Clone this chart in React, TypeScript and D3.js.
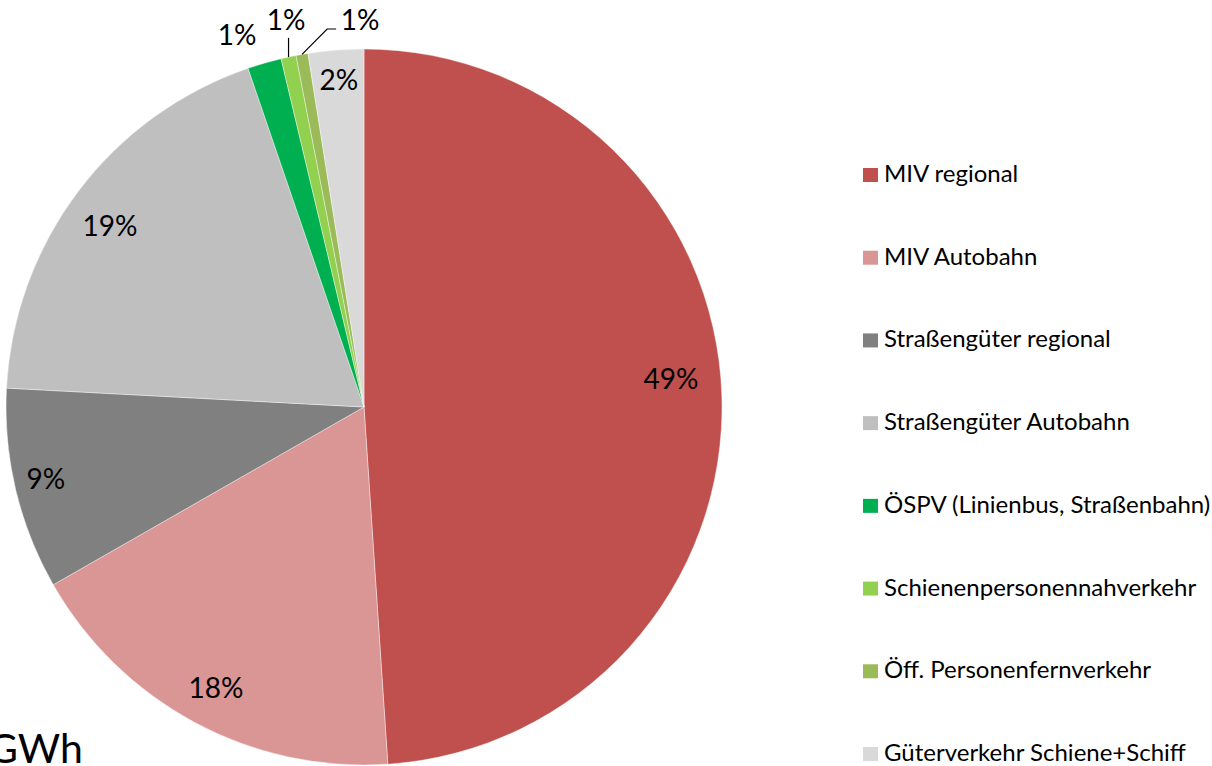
import React from "react";
import * as d3 from "d3";

const categories = [
  "MIV regional",
  "MIV Autobahn",
  "Straßengüter regional",
  "Straßengüter Autobahn",
  "ÖSPV (Linienbus, Straßenbahn)",
  "Schienenpersonennahverkehr",
  "Öff. Personenfernverkehr",
  "Güterverkehr Schiene+Schiff",
];
const shares = [48.94, 17.79, 9.11, 18.91, 1.53, 0.68, 0.54, 2.5];
const labels = ["49%", "18%", "9%", "19%", "1%", "1%", "1%", "2%"];
const colors = ["#C0504D", "#DA9694", "#808080", "#BFBFBF", "#00B050", "#92D050", "#9BBB59", "#D9D9D9"];
// label placement: [radius factor, angle shift in degrees from slice mid]
const labelPolar: [number, number][] = [
  [0.861, -3.3],
  [0.887, -0.4],
  [0.911, 0.6],
  [0.871, -1.6],
  [1.098, -2.7],
  [1.103, 0.8],
  [1.081, 9.4],
  [0.916, 0.1],
];
const unitText = "GWh";

const W = 1212;
const H = 766;

export default function App() {
  const cx = 364;
  const cy = 407;
  const r = 358;
  const pie = d3
    .pie<number>()
    .sort(null)
    .value((d) => d)
    .startAngle(0)
    .endAngle(2 * Math.PI);
  const arcs = pie(shares);
  const arcGen = d3.arc<d3.PieArcDatum<number>>().innerRadius(0).outerRadius(r);

  const polar = (angle: number, rad: number) => [rad * Math.sin(angle), -rad * Math.cos(angle)];
  const labelPos = (i: number) => {
    const a = arcs[i];
    const mid = (a.startAngle + a.endAngle) / 2 + (labelPolar[i][1] * Math.PI) / 180;
    return polar(mid, r * labelPolar[i][0]);
  };

  const legendY = d3.scalePoint<string>().domain(categories).range([182, 761]);

  const fs = 28;

  // leader lines for small outside labels
  const leaders: string[] = [];
  {
    const a5 = arcs[5];
    const mid5 = (a5.startAngle + a5.endAngle) / 2;
    const [ex, ey] = polar(mid5, r);
    const [, ly] = labelPos(5);
    leaders.push(`M${ex},${ey}L${ex},${ly + 18}`);
    const a6 = arcs[6];
    const mid6 = (a6.startAngle + a6.endAngle) / 2;
    const [fx, fy] = polar(mid6, r);
    const [mx, my] = labelPos(6);
    leaders.push(`M${mx - 24},${my + 9}L${mx - 33},${my + 9}L${fx},${fy}`);
  }

  return (
    <svg
      width={W}
      height={H}
      style={{ position: "absolute", left: 0, top: 0, background: "#fff" }}
      fontFamily="Lato, 'Open Sans', sans-serif"
    >
      <g transform={`translate(${cx},${cy})`}>
        {arcs.map((a, i) => (
          <path key={i} d={arcGen(a) || ""} fill={colors[i]} stroke="#fff" strokeWidth={0.4} />
        ))}
        {leaders.map((d, i) => (
          <path key={"l" + i} d={d} fill="none" stroke="#000" strokeWidth={1.2} />
        ))}
        {arcs.map((a, i) => {
          const [x, y] = labelPos(i);
          return (
            <text key={"t" + i} x={x} y={y + fs * 0.36} textAnchor="middle" fontSize={fs} fill="#000">
              {labels[i]}
            </text>
          );
        })}
      </g>
      <text x={83} y={763} textAnchor="end" fontSize={41} fill="#000">
        {unitText}
      </text>
      {categories.map((c, i) => {
        const y = legendY(c) as number;
        return (
          <g key={"lg" + i}>
            <rect x={863} y={y - 14} width={15} height={14} fill={colors[i]} />
            <text x={884} y={y} fontSize={24} fill="#000">
              {c}
            </text>
          </g>
        );
      })}
    </svg>
  );
}
